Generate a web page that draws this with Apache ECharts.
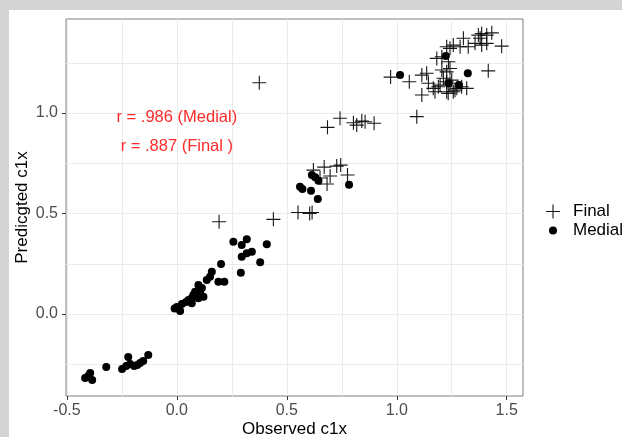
<!DOCTYPE html>
<html><head><meta charset="utf-8">
<script src="https://cdn.jsdelivr.net/npm/echarts@6/dist/echarts.min.js"></script>
<style>html,body{margin:0;padding:0;background:#d4d4d4;}#c{position:absolute;left:9px;top:10px;width:613px;height:427px;background:#fff;}</style>
</head><body><div id="c"></div>
<script>
const medialData = [
[-0.417,-0.318],[-0.394,-0.294],[-0.385,-0.328],[-0.403,-0.308],[-0.321,-0.264],
[-0.249,-0.274],[-0.230,-0.259],[-0.221,-0.214],[-0.212,-0.249],[-0.194,-0.259],
[-0.180,-0.254],[-0.167,-0.244],[-0.153,-0.234],[-0.130,-0.204],
[0.000,0.035],[0.015,0.015],[0.023,0.050],[0.053,0.070],[0.068,0.053],[0.075,0.095],
[0.083,0.111],[0.098,0.144],[0.106,0.103],[0.121,0.086],[0.098,0.078],[0.114,0.129],
[0.136,0.169],[0.151,0.186],[0.159,0.210],[0.201,0.249],[0.189,0.161],[0.216,0.161],
[0.257,0.360],[0.295,0.343],[0.318,0.372],[0.291,0.205],[0.295,0.285],[0.318,0.302],
[0.341,0.310],[0.379,0.257],[0.409,0.347],[-0.010,0.028],[0.068,0.080],[0.042,0.060],
[0.560,0.633],[0.571,0.622],[0.610,0.613],[0.641,0.572],[0.614,0.692],[0.629,0.680],
[0.644,0.663],[0.783,0.643],
[1.015,1.189],[1.323,1.198],[1.283,1.139],[1.223,1.284],[1.236,1.148]
];
const finalData = [
[0.375,1.151],[0.192,0.459],[0.439,0.471],[0.551,0.505],[0.604,0.500],[0.615,0.505],
[0.621,0.716],[0.670,0.731],[0.727,0.736],[0.745,0.741],[0.697,0.687],[0.683,0.647],
[0.776,0.692],[0.651,0.677],[0.685,0.929],[0.742,0.974],[0.803,0.952],[0.818,0.940],
[0.841,0.960],[0.856,0.957],[0.897,0.949],[0.972,1.179],[1.057,1.156],[1.091,0.982],
[1.114,1.090],[1.114,1.189],[1.136,1.198],[1.144,1.148],[1.174,1.106],[1.189,1.131],
[1.182,1.272],[1.205,1.280],[1.227,1.330],[1.257,1.338],[1.288,1.330],[1.303,1.372],
[1.325,1.330],[1.371,1.388],[1.386,1.396],[1.409,1.388],[1.432,1.399],[1.386,1.338],
[1.409,1.347],[1.477,1.333],[1.416,1.210],[1.205,1.214],[1.227,1.205],[1.242,1.222],
[1.212,1.173],[1.250,1.164],[1.234,1.098],[1.257,1.106],[1.295,1.131],[1.318,1.123],
[1.227,1.156],[1.197,1.139],[1.265,1.114],[1.242,1.322],[1.356,1.347],[1.379,1.372],
[1.235,1.255],[1.166,1.123],[1.273,1.123],[1.227,1.106],[1.242,1.148]
];
const xMajorTicks = [-0.5, 0, 0.5, 1.0, 1.5];
const xGridValues = [-0.5, -0.25, 0, 0.25, 0.5, 0.75, 1.0, 1.25, 1.5];
const yMajorTicks = [0, 0.5, 1.0];
const yGridValues = [-0.25, 0, 0.25, 0.5, 0.75, 1.0, 1.25];
const annotations = [
  {pos: [0, 0.977], text: 'r = .986 (Medial)'},
  {pos: [0, 0.833], text: 'r = .887 (Final )'}
];
const xTitle = 'Observed c1x';
const yTitle = 'Predicgted c1x';

const FONT = 'Liberation Sans, Arial, sans-serif';
const plusPath = 'path://M0,46L100,46L100,54L0,54Z M46,0L54,0L54,100L46,100Z';
const fmt = v => v.toFixed(1);

const chart = echarts.init(document.getElementById('c'), null, {renderer: 'canvas'});
const xBase = {type: 'value', min: -0.504, max: 1.574};
const yBase = {type: 'value', min: -0.408, max: 1.468};
chart.setOption({
  animation: false,
  textStyle: {fontFamily: FONT},
  grid: {left: 57, top: 9, right: 99, bottom: 41, show: true, borderColor: '#7f7f7f', borderWidth: 1,
         backgroundColor: '#fff', containLabel: false, outerBoundsMode: 'none'},
  xAxis: [
    Object.assign({}, xBase, {
      axisLine: {show: false, onZero: false},
      axisTick: {show: false, customValues: xGridValues},
      splitLine: {show: true, lineStyle: {color: '#ebebeb', width: 1}},
      axisLabel: {show: true, customValues: xMajorTicks, formatter: fmt, color: '#4d4d4d', fontSize: 16, margin: 7, fontFamily: FONT},
      name: xTitle, nameLocation: 'middle', nameGap: 25, nameMoveOverlap: false,
      nameTextStyle: {color: '#000', fontSize: 17, fontFamily: FONT}
    }),
    Object.assign({}, xBase, {
      position: 'bottom',
      axisLine: {show: false, onZero: false},
      axisTick: {show: true, customValues: xMajorTicks, length: 4, lineStyle: {color: '#333'}},
      splitLine: {show: false},
      axisLabel: {show: false}
    })
  ],
  yAxis: [
    Object.assign({}, yBase, {
      axisLine: {show: false, onZero: false},
      axisTick: {show: false, customValues: yGridValues},
      splitLine: {show: true, lineStyle: {color: '#ebebeb', width: 1}},
      axisLabel: {show: true, customValues: yMajorTicks, formatter: fmt, color: '#4d4d4d', fontSize: 16, margin: 8, fontFamily: FONT},
      name: yTitle, nameLocation: 'middle', nameGap: 35, nameRotate: 90, nameMoveOverlap: false,
      nameTextStyle: {color: '#000', fontSize: 17, fontFamily: FONT}
    }),
    Object.assign({}, yBase, {
      position: 'left',
      axisLine: {show: false, onZero: false},
      axisTick: {show: true, customValues: yMajorTicks, length: 4, lineStyle: {color: '#333'}},
      splitLine: {show: false},
      axisLabel: {show: false}
    })
  ],
  legend: [
    {data: [{name: 'Final', icon: plusPath}], left: 537, top: 193, padding: 0, orient: 'vertical', itemWidth: 14, itemHeight: 14,
     textStyle: {fontSize: 17, color: '#000', fontFamily: FONT, padding: [0, 0, 0, 8]}, selectedMode: false},
    {data: [{name: 'Medial', icon: 'circle'}], left: 540, top: 212, padding: 0, orient: 'vertical', itemWidth: 8, itemHeight: 8,
     textStyle: {fontSize: 17, color: '#000', fontFamily: FONT, padding: [0, 0, 0, 11]}, selectedMode: false}
  ],
  series: [
    {name: 'Medial', type: 'scatter', data: medialData, symbol: 'circle', symbolSize: 8,
     itemStyle: {color: '#000', opacity: 1}, z: 3},
    {name: 'Final', type: 'scatter', data: finalData, symbol: plusPath, symbolSize: 14,
     itemStyle: {color: '#000', opacity: 0.9}, z: 4},
    {name: 'annot', type: 'scatter', symbolSize: 0, silent: true,
     data: annotations.map(a => ({value: a.pos, label: {formatter: a.text}})),
     itemStyle: {opacity: 1},
     label: {show: true, position: 'inside', color: '#ff2a2a', fontSize: 16.5, fontFamily: FONT}, z: 5}
  ]
});
</script></body></html>
